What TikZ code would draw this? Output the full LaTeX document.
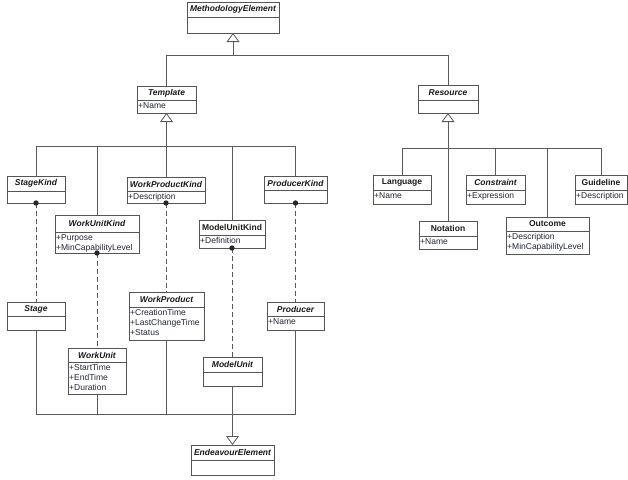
\documentclass[tikz,border=0pt]{standalone}
\usepackage{fontspec}
\setmainfont{Liberation Sans}
\usetikzlibrary{arrows.meta}
\definecolor{linec}{HTML}{5A5A5A}
\definecolor{boxc}{HTML}{555555}
\definecolor{txtc}{HTML}{1A1A1A}
\definecolor{attrc}{HTML}{22263A}
\tikzset{
  classbox/.style={draw=boxc, line width=0.8pt, inner sep=0pt, outer sep=0pt, anchor=north west, fill=white},
  boxsep/.style={draw=boxc, line width=0.6pt},
  ctitle/.style={font=\fontsize{8.5}{10}\selectfont\bfseries\itshape, text=txtc, inner sep=0pt},
  ctitleup/.style={font=\fontsize{8.5}{10}\selectfont\bfseries, text=txtc, inner sep=0pt},
  cattr/.style={font=\fontsize{8.5}{10}\selectfont, align=left, anchor=north west, inner xsep=1pt, inner ysep=2.3pt, text=attrc},
  conn/.style={draw=linec, line width=0.9pt},
  gen/.style={conn, -{Triangle[open, length=9pt, width=13pt, line width=0.8pt]}},
  inst/.style={conn, dash pattern=on 5pt off 3pt},
}
\newcommand{\umlclass}[9]{%
  \node[classbox, minimum width={(#4-#2)*1pt}, minimum height={(#5-#3)*1pt}] (#1) at (#2,#3) {};
  \draw[boxsep] (#2,#6) -- (#4,#6);
  \node[#7] (#1-title) at ({(#2+#4)/2},{(#3+#6)/2}) {#8};
  \node[cattr] (#1-attr) at (#2,#6) {#9};
}
\begin{document}
\begin{tikzpicture}[x=1pt,y=-1pt]
\useasboundingbox[fill=white] (0,0) rectangle (628,479);

% classes
\umlclass{ME}{187}{2}{279}{33}{17}{ctitle}{MethodologyElement}{}
\umlclass{Template}{137}{86}{196}{113}{100}{ctitle}{Template}{+Name}
\umlclass{Resource}{418}{85}{478}{113}{100}{ctitle}{Resource}{}
\umlclass{StageKind}{7}{176}{65}{203}{191}{ctitle}{StageKind}{}
\umlclass{WorkUnitKind}{55}{215}{139}{253}{232}{ctitle}{WorkUnitKind}{+Purpose\\+MinCapabilityLevel}
\umlclass{WorkProductKind}{127}{177}{205}{203}{191}{ctitle}{WorkProductKind}{+Description}
\umlclass{ModelUnitKind}{199}{220}{265}{248}{235}{ctitleup}{ModelUnitKind}{+Definition}
\umlclass{ProducerKind}{264}{176}{327}{203}{190}{ctitle}{ProducerKind}{}
\umlclass{Language}{373}{175}{431}{204}{190}{ctitleup}{Language}{+Name}
\umlclass{Notation}{419}{221}{477}{249}{236}{ctitleup}{Notation}{+Name}
\umlclass{Constraint}{466}{175}{525}{204}{190}{ctitle}{Constraint}{+Expression}
\umlclass{Outcome}{506}{217}{589}{254}{231}{ctitleup}{Outcome}{+Description\\+MinCapabilityLevel}
\umlclass{Guideline}{575}{175}{627}{204}{190}{ctitleup}{Guideline}{+Description}
\umlclass{Stage}{7}{302}{65}{330}{316}{ctitle}{Stage}{}
\umlclass{WorkUnit}{68}{348}{126}{394}{362}{ctitle}{WorkUnit}{+StartTime\\+EndTime\\+Duration}
\umlclass{WorkProduct}{129}{292}{204}{340}{307}{ctitle}{WorkProduct}{+CreationTime\\+LastChangeTime\\+Status}
\umlclass{ModelUnit}{203}{357}{262}{386}{372}{ctitle}{ModelUnit}{}
\umlclass{Producer}{267}{302}{324}{330}{316}{ctitle}{Producer}{+Name}
\umlclass{EE}{191}{445}{274}{475}{460}{ctitle}{EndeavourElement}{}

% bus coordinates
\coordinate (busA) at (0,55);
\coordinate (busL) at (0,146);
\coordinate (busR) at (0,148);
\coordinate (busB) at (0,414);

% top generalization
\draw[conn] (Template.north) -- (Template.north |- busA) -- (Resource.north |- busA) -- (Resource.north);
\draw[gen] (ME.south |- busA) -- (ME.south);

% template children
\draw[conn] (StageKind.north) -- (StageKind.north |- busL) -- (ProducerKind.north |- busL) -- (ProducerKind.north);
\foreach \n in {WorkUnitKind,WorkProductKind,ModelUnitKind}
  \draw[conn] (\n.north) -- (\n.north |- busL);
\draw[gen] (Template.south |- busL) -- (Template.south);

% resource children
\draw[conn] (Language.north) -- (Language.north |- busR) -- (Guideline.north |- busR) -- (Guideline.north);
\foreach \n in {Notation,Constraint,Outcome}
  \draw[conn] (\n.north) -- (\n.north |- busR);
\draw[gen] (Resource.south |- busR) -- (Resource.south);

% endeavour children
\draw[conn] (Stage.south) -- (Stage.south |- busB) -- (Producer.south |- busB) -- (Producer.south);
\foreach \n in {WorkUnit,WorkProduct,ModelUnit}
  \draw[conn] (\n.south) -- (\n.south |- busB);
\draw[gen] (EE.north |- busB) -- (EE.north);

% powertype instance links
\foreach \a/\b in {StageKind/Stage,WorkUnitKind/WorkUnit,WorkProductKind/WorkProduct,ModelUnitKind/ModelUnit,ProducerKind/Producer}{
  \draw[inst] (\a.south) -- (\a.south |- \b.north);
  \fill[black!85] (\a.south) circle (2.7pt);
}
\end{tikzpicture}
\end{document}
